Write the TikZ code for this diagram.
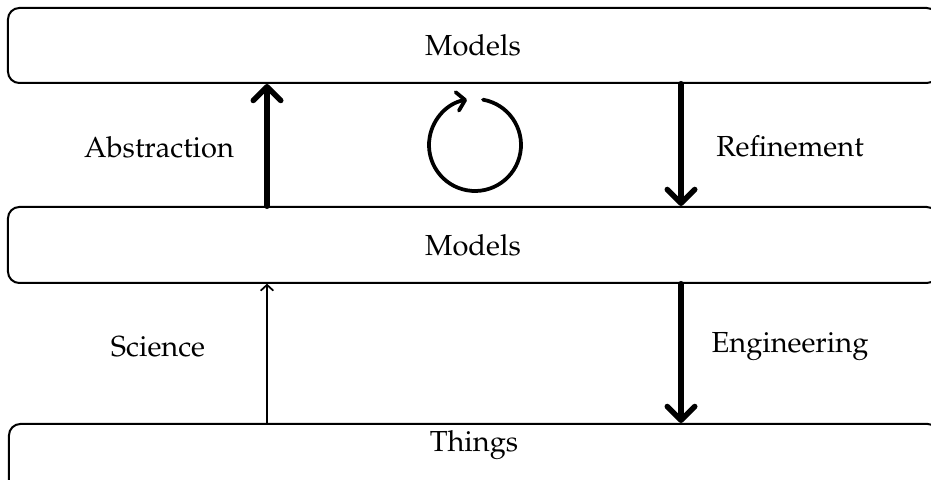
\documentclass[tikz,border=0pt]{standalone}
\usepackage[T1]{fontenc}
\usepackage{mathpazo}
\usetikzlibrary{arrows.meta,positioning}

\tikzset{
  layerbox/.style={draw=black,line width=0.8pt,rounded corners=4.5pt,minimum width=372pt,inner sep=0pt,align=center},
  boldarrow/.style={line width=2.4pt,line cap=round,-{Straight Barb[length=5.5pt,width=11pt,line width=2.2pt,round]}},
  thinarrow/.style={line width=0.7pt,-{Straight Barb[length=2.2pt,width=4.8pt,line width=0.7pt,round]}},
  sidelabel/.style={anchor=base,inner sep=0pt}
}

\begin{document}
\begin{tikzpicture}[x=0.4pt,y=0.4pt,font=\fontsize{11.6}{14}\selectfont]
\useasboundingbox (0,0) rectangle (931,479);
% layers
\node[layerbox,minimum height=30pt] (top) at (473,433.5) {Models};
\node[layerbox,minimum height=30.4pt] (mid) at (473,234) {Models};
\node[layerbox,anchor=base,text height=10.8pt,text depth=18pt] (low) at (474,28) {Things};
% arrow columns
\coordinate (colL) at (267,0);
\coordinate (colR) at (681,0);
\draw[boldarrow] (mid.north -| colL) -- (top.south -| colL);
\draw[boldarrow] (top.south -| colR) -- (mid.north -| colR);
\draw[thinarrow] (low.north -| colL) -- (mid.south -| colL);
\draw[boldarrow] (mid.south -| colR) -- (low.north -| colR);
% labels
\node[sidelabel] (abs) at (159,321) {Abstraction};
\node[sidelabel] (ref) at (790,322) {Refinement};
\node[sidelabel] (sci) at (158,122) {Science};
\node[sidelabel] (eng) at (790,126) {Engineering};
% cycle
\coordinate (cyc) at (475,334);
\draw[line width=1.5pt,line cap=round,-{Straight Barb[length=3.2pt,width=7.5pt,line width=1.5pt,round]}]
  ([shift={(80:46)}]cyc) arc[start angle=80,end angle=-260,radius=46];
\end{tikzpicture}
\end{document}
